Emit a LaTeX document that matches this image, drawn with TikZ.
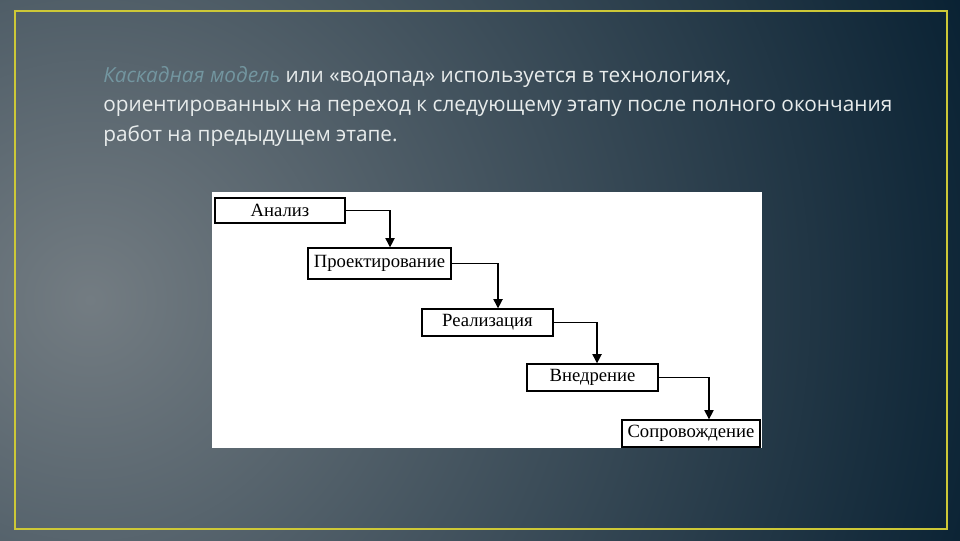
\documentclass[tikz,border=0pt]{standalone}
\usepackage{fontspec}
\setmainfont{Liberation Serif}
\newfontfamily\slidefont{Open Sans}
\usepackage{xcolor}
\usepackage{tikz}
\usetikzlibrary{arrows.meta}

\definecolor{slidedark}{RGB}{5,30,48}
\definecolor{slidelight}{RGB}{115,124,130}
\definecolor{framegold}{RGB}{205,200,55}
\definecolor{termcol}{RGB}{115,150,160}
\definecolor{textcol}{RGB}{232,236,236}

\begin{document}
\begin{tikzpicture}[
    x=0.75pt, y=-0.75pt,
    stage/.style={
        draw, line width=1pt, fill=white,
        inner sep=0pt,
        font=\fontsize{14}{15}\selectfont
    },
    intro/.style={
        anchor=base west, inner sep=0pt,
        text=textcol, font=\slidefont\fontsize{15.6}{18}\selectfont
    },
    flow/.style={line width=1pt, -{Triangle[width=7pt,length=7pt]}}
]
\useasboundingbox (0,0) rectangle (960,540);
% background
\fill[slidedark] (0,0) rectangle (960,540);
\begin{scope}
\clip (0,0) rectangle (960,540);
\shade[inner color=slidelight, outer color=slidedark] (90,300) circle (960);
\end{scope}
\draw[framegold, line width=1.5pt] (15,11) rectangle (947,529);

% text
\node[intro] (line1) at (103,82)  {\textcolor{termcol}{\itshape Каскадная модель} или «водопад» используется в технологиях,};
\node[intro] (line2) at (103,111) {ориентированных на переход к следующему этапу после полного окончания};
\node[intro] (line3) at (103,141) {работ на предыдущем этапе.};

% waterfall
\fill[white] (212,192) rectangle (762,448);
\node[stage, minimum width=97.5pt,  minimum height=18.75pt] (anal) at (280,210.5)   {Анализ};
\node[stage, minimum width=107.25pt, minimum height=23.25pt] (proj) at (379.5,263.5) {Проектирование};
\node[stage, minimum width=98.25pt, minimum height=20.25pt] (real) at (487.5,322.5) {Реализация};
\node[stage, minimum width=98.25pt, minimum height=20.25pt] (vned) at (592.5,377.5) {Внедрение};
\node[stage, minimum width=103.5pt, minimum height=20.25pt] (sopr) at (691,433.5)   {Сопровождение};
\draw[flow] (anal.east) -| ([xshift=7.9pt]proj.north);
\draw[flow] (proj.east) -| ([xshift=7.9pt]real.north);
\draw[flow] (real.east) -| ([xshift=3.4pt]vned.north);
\draw[flow] (vned.east) -| ([xshift=13.5pt]sopr.north);
\end{tikzpicture}
\end{document}
